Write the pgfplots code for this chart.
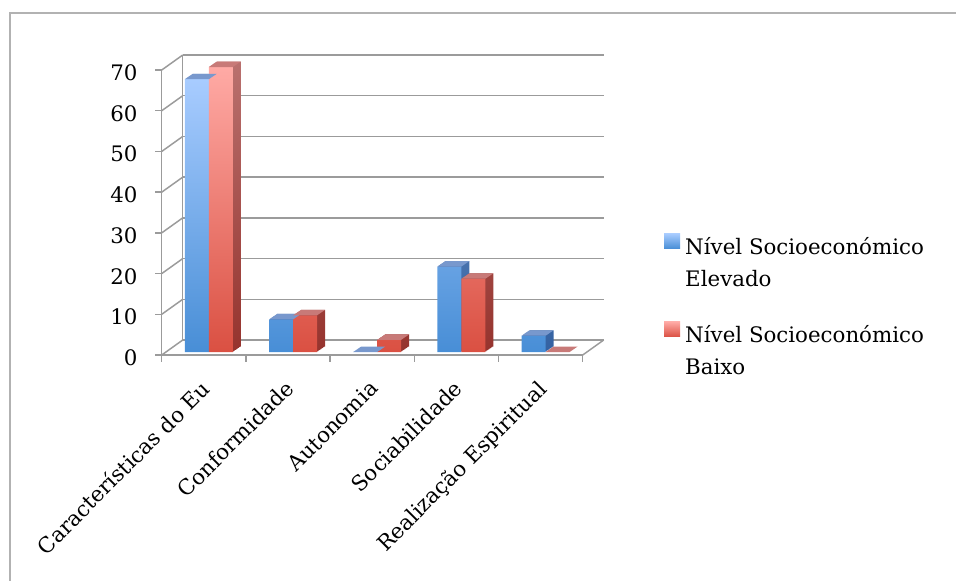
\documentclass[border=0pt]{standalone}
\usepackage{fontspec}
\setmainfont{DejaVu Serif}
\usepackage{pgfplots}
\usepackage{pgfplotstable}
\pgfplotsset{compat=1.18}

% palette
\definecolor{gridgray}{RGB}{155,155,155}
\definecolor{framegray}{RGB}{178,178,178}
\definecolor{blueFrontTop}{RGB}{168,204,255}
\definecolor{blueFrontBot}{RGB}{72,142,214}
\definecolor{blueSideTop}{RGB}{112,146,196}
\definecolor{blueSideBot}{RGB}{52,98,162}
\definecolor{blueTop}{RGB}{120,152,205}
\definecolor{redFrontTop}{RGB}{255,170,165}
\definecolor{redFrontBot}{RGB}{218,80,66}
\definecolor{redSideTop}{RGB}{185,112,110}
\definecolor{redSideBot}{RGB}{150,52,46}
\definecolor{redTop}{RGB}{200,122,120}

\newcommand\lbl{\fontsize{16}{24}\selectfont}

% top face of a column: bar width 18pt, depth offset (6pt,4.1pt)
\pgfdeclareplotmark{bartop}{%
  \pgfpathmoveto{\pgfqpoint{-9pt}{0pt}}%
  \pgfpathlineto{\pgfqpoint{9pt}{0pt}}%
  \pgfpathlineto{\pgfqpoint{15pt}{4.1pt}}%
  \pgfpathlineto{\pgfqpoint{-3pt}{4.1pt}}%
  \pgfpathclose\pgfusepathqfill}

% percentages per category
\pgfplotstableread{
x elevado baixo
0 67 70
1 8  9
2 0  3
3 21 18
4 4  0
}\dados

\begin{document}
\begin{tikzpicture}
\begin{axis}[
  at={(121.3pt,-266.25pt)}, anchor=south west,
  scale only axis, width=315.75pt, height=213.75pt,
  xmin=-0.5, xmax=4.5, ymin=0, ymax=70,
  axis lines*=left,
  axis line style={gridgray, line width=1.1pt},
  tick style={gridgray, line width=1.1pt},
  tick align=outside, major tick length=5pt,
  xtick={-0.5,0.5,...,4.5}, xticklabels={,,,,,},
  extra x ticks={0,1,2,3,4},
  extra x tick labels={Características do Eu,Conformidade,Autonomia,Sociabilidade,Realização Espiritual},
  extra x tick style={major tick length=0pt},
  xticklabel style={font=\lbl, rotate=45, anchor=north east, inner sep=0pt, yshift=-10.2pt, xshift=-14.7pt},
  ytick={0,10,...,70},
  yticklabel style={font=\lbl, anchor=east, inner sep=0pt, xshift=-13pt, yshift=-2pt},
  /pgf/number format/assume math mode=true,
  ymajorgrids,
  y grid style={gridgray, line width=1.1pt, xshift=15.75pt, yshift=11.25pt},
  clip=false,
  legend style={at={(rel axis cs:1.193,0.427)}, anchor=north west, draw=none, fill=none,
    inner sep=0pt, row sep=25pt, column sep=3.75pt, font=\lbl,
    nodes={align=left, inner sep=0pt}, cells={anchor=base west}},
]
% side walls and floor edge of the box
\pgfplotsinvokeforeach{0,10,...,70}{
  \draw[gridgray, line width=1.1pt] (axis cs:-0.5,#1) -- ++(15.75pt,11.25pt);
}
\draw[gridgray, line width=1.1pt] (axis cs:4.5,0) -- ++(15.75pt,11.25pt);
\draw[gridgray, line width=1.1pt] ([shift={(15.75pt,11.25pt)}]axis cs:-0.5,0) -- ([shift={(15.75pt,11.25pt)}]axis cs:-0.5,70);

% ---- Nível Socioeconómico Elevado ----
\pgfplotsinvokeforeach{8,7,...,1}{
  \addplot[forget plot, ybar, bar width=18pt, bar shift=-9pt, draw=none,
    top color=blueSideTop, bottom color=blueSideBot,
    xshift=3.75pt+#1*0.75pt, yshift=2.25pt+#1*0.5125pt,
    y filter/.expression={y==0 ? nan : y}]
    table[x=x, y=elevado]{\dados};
}
\addplot[forget plot, only marks, mark=bartop, color=blueTop,
  xshift=-5.25pt, yshift=2.25pt] table[x=x, y=elevado]{\dados};
\addplot[ybar, bar width=18pt, bar shift=-9pt, draw=none,
  top color=blueFrontTop, bottom color=blueFrontBot,
  xshift=3.75pt, yshift=2.25pt,
  y filter/.expression={y==0 ? nan : y},
  legend image code/.code={\fill[top color=blueFrontTop, bottom color=blueFrontBot, draw=none] (0pt,26.25pt) rectangle (12pt,37.5pt);}]
  table[x=x, y=elevado]{\dados};
\addlegendentry{Nível Socioeconómico\\Elevado}

% ---- Nível Socioeconómico Baixo ----
\pgfplotsinvokeforeach{8,7,...,1}{
  \addplot[forget plot, ybar, bar width=18pt, bar shift=9pt, draw=none,
    top color=redSideTop, bottom color=redSideBot,
    xshift=3.75pt+#1*0.75pt, yshift=2.25pt+#1*0.5125pt,
    y filter/.expression={y==0 ? nan : y}]
    table[x=x, y=baixo]{\dados};
}
\addplot[forget plot, only marks, mark=bartop, color=redTop,
  xshift=12.75pt, yshift=2.25pt] table[x=x, y=baixo]{\dados};
\addplot[ybar, bar width=18pt, bar shift=9pt, draw=none,
  top color=redFrontTop, bottom color=redFrontBot,
  xshift=3.75pt, yshift=2.25pt,
  y filter/.expression={y==0 ? nan : y},
  legend image code/.code={\fill[top color=redFrontTop, bottom color=redFrontBot, draw=none] (0pt,26.25pt) rectangle (12pt,37.5pt);}]
  table[x=x, y=baixo]{\dados};
\addlegendentry{Nível Socioeconómico\\Baixo}
\end{axis}
\pgfresetboundingbox
\path[use as bounding box] (0pt,0pt) rectangle (717pt,-435.75pt);
\draw[framegray, line width=1pt] (7.5pt,-445pt) -- (7.5pt,-9.75pt) -- (730pt,-9.75pt);
\end{tikzpicture}
\end{document}
